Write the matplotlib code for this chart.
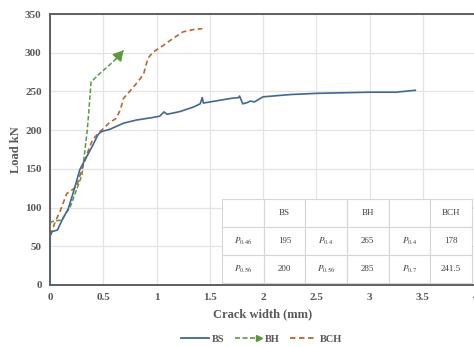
import matplotlib
matplotlib.use("Agg")
import matplotlib.pyplot as plt
from matplotlib.lines import Line2D
from matplotlib.legend_handler import HandlerBase

# ---- data ----
bs_x = [0, 0, 0.02, 0.07, 0.11, 0.17, 0.22, 0.28, 0.33, 0.40, 0.45, 0.48, 0.56, 0.69, 0.81, 0.95,
        1.03, 1.07, 1.10, 1.22, 1.35, 1.41, 1.43, 1.44, 1.57, 1.70, 1.77, 1.78, 1.81, 1.85, 1.88,
        1.92, 2.0, 2.26, 2.5, 3.0, 3.25, 3.43]
bs_y = [0, 65, 69, 71, 83, 98, 120, 149, 162, 180, 194, 198, 201, 209, 213, 216,
        218, 223.5, 220.5, 224, 230, 234, 242, 235, 238, 241, 242, 244, 234, 235.5, 237.5,
        236.5, 243, 246, 247.5, 249, 249, 251.5]

bh_x = [0, 0, 0.02, 0.11, 0.19, 0.30, 0.32, 0.35, 0.365, 0.385, 0.45, 0.55, 0.62, 0.69]
bh_y = [0, 80, 82, 84, 101, 142, 165, 200, 225, 262, 271, 283, 292, 303]

bch_x = [0, 0, 0.016, 0.05, 0.094, 0.157, 0.25, 0.30, 0.35, 0.40, 0.47, 0.56, 0.62, 0.66, 0.69,
         0.78, 0.85, 0.88, 0.92, 0.97, 1.06, 1.15, 1.25, 1.35, 1.43]
bch_y = [0, 58, 69, 82, 95, 118, 127, 150, 170, 188, 198, 210, 215, 226, 241,
         255, 267, 273, 293, 301, 309, 318, 327, 330, 331]

x_ticks = [0, 0.5, 1, 1.5, 2, 2.5, 3, 3.5, 4]
y_ticks = [0, 50, 100, 150, 200, 250, 300, 350]

table_rows = [
    ["", "BS", "", "BH", "", "BCH"],
    [r"$P_{0.46}$", "195", r"$P_{0.4}$", "265", r"$P_{0.4}$", "178"],
    [r"$P_{0.56}$", "200", r"$P_{0.56}$", "285", r"$P_{0.7}$", "241.5"],
]

c_bs = "#3f6896"
c_bh = "#5b9a3c"
c_bch = "#c0622b"
txt = "#595959"

plt.rcParams['font.family'] = ['Liberation Serif', 'DejaVu Serif']
plt.rcParams['mathtext.fontset'] = 'stix'

fig = plt.figure(figsize=(4.74, 3.47), dpi=100)
ax = fig.add_axes([50/474, 62/347, 426/474, 271/347])

ax.plot(bs_x, bs_y, color=c_bs, lw=1.2, zorder=4)
ax.plot(bh_x, bh_y, color=c_bh, lw=1.1, ls=(0, (3, 1.5)), zorder=3)
ax.annotate("", xy=(bh_x[-1], bh_y[-1]), xytext=(bh_x[-2], bh_y[-2]),
            arrowprops=dict(arrowstyle="-|>,head_length=0.6,head_width=0.35",
                            color=c_bh, lw=1.1, shrinkA=0, shrinkB=0))
ax.plot(bch_x, bch_y, color=c_bch, lw=1.2, ls=(0, (3, 2)), zorder=3)

ax.set_xlim(0, 4)
ax.set_ylim(0, 350)
ax.set_xticks(x_ticks)
ax.set_yticks(y_ticks)
ax.set_xticklabels([f"{t:g}" for t in x_ticks])
ax.tick_params(length=0, labelsize=8, labelcolor=txt, pad=6)
for lab in ax.get_xticklabels() + ax.get_yticklabels():
    lab.set_fontweight("bold")
ax.grid(True, color="#e4e4e4", lw=0.9)
ax.set_axisbelow(True)
for s in ["top", "left", "bottom"]:
    ax.spines[s].set_color("#5f5f5f")
    ax.spines[s].set_linewidth(1.4)
ax.spines["right"].set_visible(False)

ax.set_xlabel("Crack width (mm)", fontsize=9, fontweight="bold", color=txt, labelpad=4)
ax.set_ylabel("Load kN", fontsize=9, fontweight="bold", color=txt, labelpad=2)

tb = ax.table(cellText=table_rows, cellLoc="center",
              bbox=[172/426, 2/271, 250/426, 84/271], zorder=5)
tb.auto_set_font_size(False)
tb.set_fontsize(6.5)
for (r, c), cell in tb.get_celld().items():
    cell.set_edgecolor("#d6d6d6")
    cell.set_linewidth(0.8)
    cell.set_facecolor("white")
    cell.get_text().set_color("#404040")


class ArrowHandler(HandlerBase):
    def create_artists(self, legend, orig_handle, xdescent, ydescent, width, height,
                       fontsize, trans):
        y = height / 2 - ydescent
        line = Line2D([-xdescent, width - xdescent - 3], [y, y], color=c_bh, lw=1.2,
                      ls=(0, (3, 1.5)), transform=trans)
        head = Line2D([width - xdescent - 2], [y], marker=">", color=c_bh,
                      markersize=5, transform=trans)
        return [line, head]


h_bs = Line2D([], [], color=c_bs, lw=1.3)
h_bh = Line2D([], [], color=c_bh, lw=1.2)
h_bch = Line2D([], [], color=c_bch, lw=1.3, ls=(0, (3, 2)))
leg = fig.legend([h_bs, h_bh, h_bch], ["BS", "BH", "BCH"], loc="center",
                 bbox_to_anchor=(262/474, 8/347), ncol=3, frameon=False,
                 fontsize=7.5, handlelength=2.6, handletextpad=0.3, columnspacing=1.0,
                 handler_map={h_bh: ArrowHandler()})
for t in leg.get_texts():
    t.set_color(txt)
    t.set_fontweight("bold")

fig.savefig("out.png", dpi=100)
